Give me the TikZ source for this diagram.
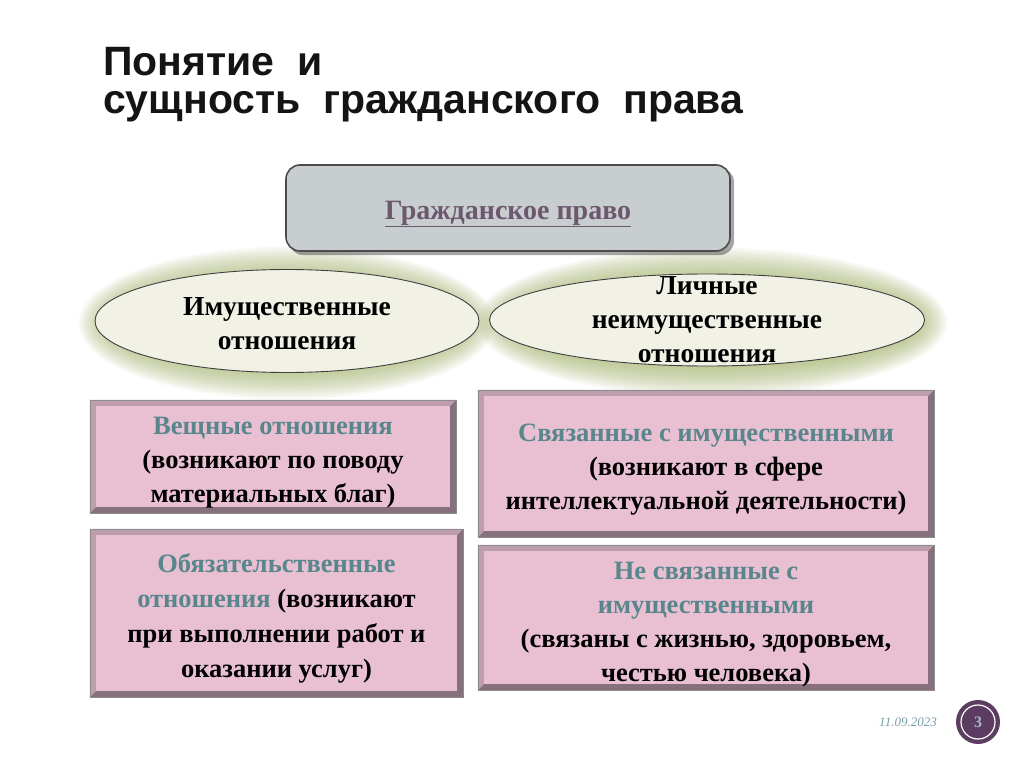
\documentclass[tikz,border=0pt]{standalone}
\usepackage{fontspec}
\setmainfont{Liberation Serif}
\newfontfamily\titlefont{Liberation Sans}
\usetikzlibrary{shapes.geometric}
\definecolor{pinkfill}{RGB}{233,192,210}
\definecolor{pinkdark}{RGB}{135,112,126}
\definecolor{pinkmid}{RGB}{190,158,174}
\definecolor{tealtxt}{RGB}{88,134,140}
\definecolor{graybox}{RGB}{200,205,208}
\definecolor{graytxt}{RGB}{108,88,108}
\definecolor{ivory}{RGB}{241,241,230}
\definecolor{glowc}{RGB}{165,180,105}
\definecolor{darkpurple}{RGB}{92,60,96}
\definecolor{titlec}{RGB}{20,20,20}
\definecolor{datec}{RGB}{120,160,170}
\tikzset{
  pinkbox/.style={fill=pinkdark, inner sep=0pt},
  boxtext/.style={align=center, font=\bfseries\fontsize{26.5}{34}\selectfont, text=black},
  boxtextb/.style={align=center, font=\bfseries\fontsize{26.5}{35}\selectfont, text=black},
  elltext/.style={align=center, font=\bfseries\fontsize{27.5}{34}\selectfont, text=black},
  oval/.style={ellipse, draw=black!75, line width=0.9pt, fill=ivory, inner sep=0pt},
  titletext/.style={anchor=base west, inner sep=0pt, font=\titlefont\bfseries\fontsize{41}{46}\selectfont, text=titlec},
}
\newcommand{\bevel}[1]{%
  \fill[pinkmid] (#1.north west) -- (#1.north east) -- ([shift={(-6,6)}]#1.north east) -- ([shift={(6,6)}]#1.north west) -- ([shift={(6,-6)}]#1.south west) -- (#1.south west) -- cycle;
  \fill[pinkfill] ([shift={(6,6)}]#1.north west) rectangle ([shift={(-6,-6)}]#1.south east);
  \draw[black!45, line width=0.6pt] (#1.north west) rectangle (#1.south east);
}
\newcommand{\glow}[4]{% cx cy rx ry
  \foreach \k in {18,17,...,0}{
    \fill[glowc, opacity=0.06] (#1,#2) ellipse [x radius={#3+1.8*\k}, y radius={#4+1.8*\k}];
  }
}
\begin{document}
\begin{tikzpicture}[x=1pt,y=-1pt]
\useasboundingbox (0,0) rectangle (1024,767);
\fill[white] (0,0) rectangle (1024,767);

% title
\node[titletext] (t1) at (103,76) {Понятие\ \ и};
\node[titletext] (t2) at (103,114) {сущность\ \ гражданского\ \ права};

% glow behind ellipses
\glow{287}{323}{176}{44}
\glow{712}{322}{203}{42}

% top box
\fill[black, opacity=0.35, rounded corners=14pt] (289,168) rectangle (734,255);
\node[draw=black!70, line width=1.6pt, fill=graybox, rounded corners=14pt, minimum width=444pt, minimum height=86pt, inner sep=0pt] (top) at (508,208) {};
\node[font=\bfseries\fontsize{28}{30}\selectfont, text=graytxt] (toptext) at (508,214) {\underline{Гражданское право}};

% ellipses
\node[oval, minimum width=384pt, minimum height=103pt] (e1) at (287,321) {};
\node[elltext] (e1t) at (287,323.5) {Имущественные\\отношения};
\node[oval, minimum width=435pt, minimum height=92pt] (e2) at (707,320) {};
\node[elltext] (e2t) at (707,319.5) {Личные\\неимущественные\\отношения};

% boxes
\node[pinkbox, minimum width=366pt, minimum height=113pt] (b1) at (273,456.5) {};
\bevel{b1}
\node[boxtext] (b1t) at (273,463) {\textcolor{tealtxt}{Вещные отношения}\\(возникают по поводу\\материальных благ)};

\node[pinkbox, minimum width=373pt, minimum height=168pt] (b2) at (276.5,613) {};
\bevel{b2}
\node[boxtextb] (b2t) at (276.5,618) {\textcolor{tealtxt}{Обязательственные}\\\textcolor{tealtxt}{отношения} (возникают\\при выполнении работ и\\оказании услуг)};

\node[pinkbox, minimum width=456pt, minimum height=147pt] (b3) at (706,463.5) {};
\bevel{b3}
\node[boxtext] (b3t) at (706,469.5) {\textcolor{tealtxt}{Связанные с имущественными}\\(возникают в сфере\\интеллектуальной деятельности)};

\node[pinkbox, minimum width=456pt, minimum height=145pt] (b4) at (706,617.5) {};
\bevel{b4}
\node[boxtext] (b4t) at (706,624.5) {\textcolor{tealtxt}{Не связанные с}\\\textcolor{tealtxt}{имущественными}\\(связаны с жизнью, здоровьем,\\честью человека)};

% footer
\node[font=\itshape\fontsize{13}{14}\selectfont, text=datec] (date) at (908,722) {11.09.2023};
\node[circle, fill=darkpurple, minimum size=44pt, inner sep=0pt] (pg) at (978,722) {};
\draw[white, line width=1.2pt] (pg.center) circle (17);
\node[font=\bfseries\fontsize{16}{16}\selectfont, text=datec!70!white] (pgt) at (978,722) {3};
\end{tikzpicture}
\end{document}
